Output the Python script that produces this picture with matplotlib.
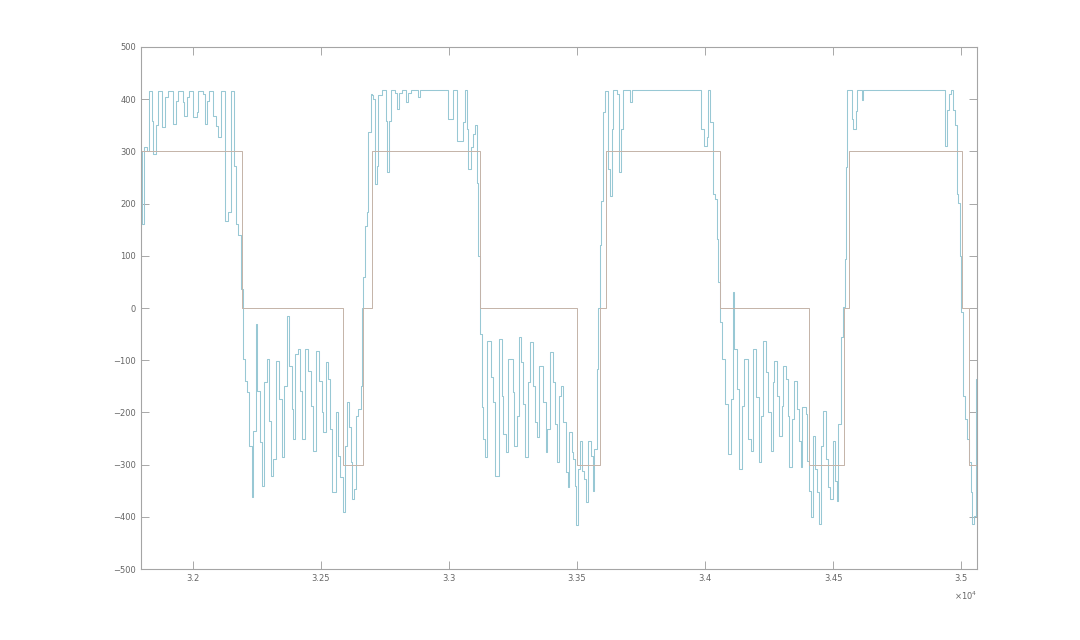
import matplotlib
matplotlib.use("Agg")
import matplotlib.pyplot as plt
from matplotlib.ticker import FuncFormatter, MultipleLocator

t_sig = [31800, 31802, 31809, 31820, 31828, 31840, 31844, 31855, 31863, 31879,
         31891, 31902, 31922, 31934, 31941, 31961, 31965, 31977, 31984, 32000,
         32016, 32020, 32039, 32047, 32055, 32063, 32078, 32090, 32098, 32109,
         32125, 32137, 32148, 32160, 32168, 32176, 32188,
         32195, 32203, 32211, 32219, 32230, 32234, 32246, 32250, 32262, 32270,
         32277, 32289, 32297, 32305, 32312, 32324, 32336, 32348, 32355, 32367,
         32375, 32387, 32391, 32398, 32410, 32418, 32426, 32437, 32449, 32461,
         32469, 32480, 32492, 32504, 32508, 32520, 32527, 32535, 32543, 32559,
         32566, 32574, 32586, 32594, 32602, 32609, 32617, 32621, 32629, 32637,
         32645, 32656, 32660,
         32664, 32672, 32680, 32684, 32695, 32699, 32703, 32711, 32719, 32723,
         32738, 32754, 32758, 32766, 32773, 32789, 32797, 32805, 32816, 32832,
         32840, 32852, 32879, 32887, 32996, 33016, 33031, 33055, 33062, 33070,
         33074, 33086, 33094, 33102, 33109, 33115,
         33121, 33129, 33133, 33141, 33148, 33164, 33172, 33180, 33195, 33207,
         33211, 33223, 33230, 33250, 33254, 33266, 33273, 33281, 33289, 33297,
         33309, 33316, 33328, 33336, 33344, 33352, 33367, 33379, 33383, 33394,
         33406, 33414, 33422, 33430, 33437, 33445, 33457, 33465, 33469, 33480,
         33484, 33492, 33496, 33504, 33512, 33519, 33527, 33535, 33543, 33555,
         33562, 33566, 33578, 33582,
         33590, 33594, 33601, 33609, 33621, 33629, 33637, 33641, 33656, 33664,
         33672, 33680, 33707, 33715, 33984, 33996, 34008, 34012, 34019, 34031,
         34039, 34047, 34051,
         34058, 34066, 34078, 34090, 34101, 34109, 34113, 34125, 34133, 34144,
         34152, 34168, 34180, 34187, 34199, 34211, 34219, 34226, 34238, 34246,
         34258, 34266, 34269, 34281, 34289, 34301, 34305, 34316, 34324, 34328,
         34340, 34348, 34359, 34367, 34375, 34379, 34394, 34398, 34406, 34414,
         34422, 34430, 34437, 34445, 34453, 34461, 34472, 34480, 34488, 34500,
         34508, 34515, 34519, 34531, 34539,
         34547, 34551, 34554, 34574, 34578, 34590, 34594, 34613, 34617, 34937,
         34945, 34953, 34961, 34969, 34976, 34984, 34988, 34996,
         35000, 35008, 35015, 35023, 35031, 35039, 35043, 35051, 35058, 35062]
v_sig = [300, 160, 308, 300, 416, 358, 295, 350, 416, 347,
         405, 416, 352, 397, 416, 395, 368, 405, 416, 366,
         375, 416, 410, 352, 397, 416, 368, 349, 328, 416,
         167, 184, 416, 272, 161, 140, 36,
         -98, -140, -160, -264, -362, -235, -31, -159, -257, -341,
         -142, -98, -216, -322, -290, -101, -174, -285, -149, -15,
         -111, -193, -251, -88, -79, -159, -251, -79, -121, -188,
         -274, -82, -140, -199, -238, -103, -136, -232, -352, -199,
         -283, -324, -391, -264, -180, -228, -295, -366, -347, -207,
         -193, -149, 0,
         60, 157, 184, 337, 410, 408, 400, 238, 272, 408,
         418, 358, 260, 358, 418, 412, 381, 412, 418, 394,
         412, 418, 405, 418, 362, 418, 320, 356, 418, 343,
         266, 308, 333, 350, 240, 100,
         -50, -190, -251, -285, -63, -132, -180, -322, -59, -169,
         -241, -276, -98, -161, -264, -207, -56, -103, -184, -285,
         -142, -65, -149, -218, -247, -111, -180, -276, -232, -84,
         -142, -222, -295, -169, -149, -218, -314, -343, -238, -276,
         -290, -341, -415, -308, -255, -312, -328, -372, -255, -283,
         -350, -270, -117, 0,
         120, 205, 375, 416, 266, 215, 343, 418, 410, 260,
         343, 418, 394, 418, 343, 310, 327, 418, 356, 218,
         209, 132, 50,
         -27, -98, -184, -280, -174, 31, -79, -155, -308, -188,
         -98, -251, -274, -79, -171, -295, -207, -63, -123, -199,
         -274, -142, -101, -169, -245, -188, -111, -136, -207, -305,
         -213, -140, -193, -255, -305, -190, -203, -293, -350, -400,
         -245, -308, -352, -414, -264, -197, -290, -343, -366, -255,
         -331, -370, -222, -56, 2,
         94, 270, 418, 362, 343, 378, 418, 399, 418, 310,
         379, 410, 418, 379, 350, 218, 201, 100,
         -8, -169, -213, -251, -295, -352, -414, -398, -136, -136]

# reference three-level command
t_ref = [31800, 32191, 32586, 32664, 32699, 33121, 33500, 33590, 33613,
         34058, 34406, 34543, 34562, 35004, 35031, 35062]
v_ref = [300, 0, -300, 0, 300, 0, -300, 0, 300,
         0, -300, 0, 300, 0, -300, -300]

fig = plt.figure(figsize=(10.8, 6.4), dpi=100)
ax = fig.add_axes([0.1306, 0.1109, 0.774, 0.8157])

ax.step(t_sig, v_sig, where='post', color='#98c8d4', lw=0.75)
ax.step(t_ref, v_ref, where='post', color='#c4b3a8', lw=0.7)

ax.set_xlim(31797, 35062)
ax.set_ylim(-500, 500)
ax.xaxis.set_major_locator(MultipleLocator(500))
ax.yaxis.set_major_locator(MultipleLocator(100))
ax.xaxis.set_major_formatter(FuncFormatter(lambda v, p: '%g' % (v / 1e4)))
ax.tick_params(direction='in', length=6, width=0.6, colors='#9a9a9a',
               labelcolor='#666666', labelsize=6, top=True, right=True)
for s in ax.spines.values():
    s.set_color('#a5a5a5')
    s.set_linewidth(0.8)
ax.text(1.0, -0.04, r'$\times10^4$', transform=ax.transAxes, ha='right',
        va='top', fontsize=6, color='#666666')

fig.savefig('out.png', dpi=100)
